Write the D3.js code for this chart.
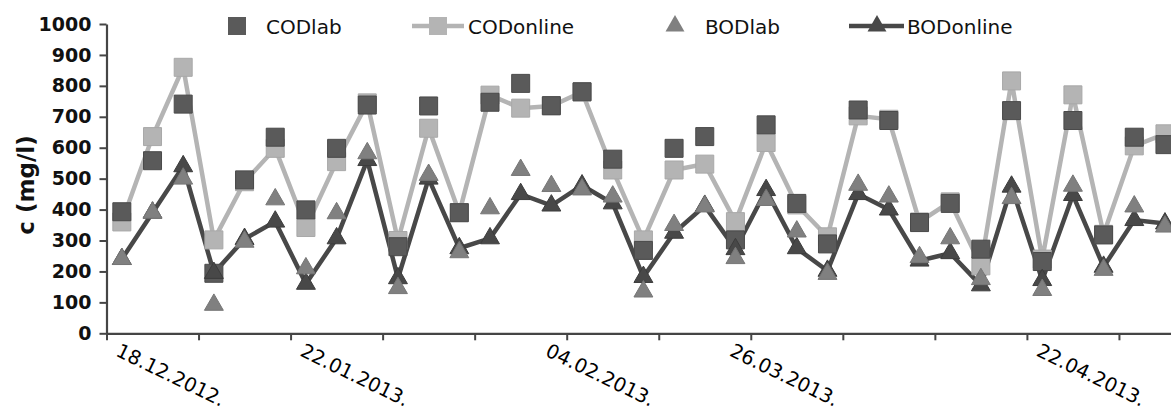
<!DOCTYPE html>
<html>
<head>
<meta charset="utf-8">
<script src="https://cdn.jsdelivr.net/npm/d3@7"></script>
<style>
  body { margin: 0; background: #fff; }
  #chart svg { display: block; }
</style>
</head>
<body>
<div id="chart"></div>
<script>
// values (mg/l), one per sampling point
var codLab    = [393, 558, 741, 194, 496, 634, 399, 598, 738, 280, 735, 390, 747, 808, 736, 781, 563, 268,
                 598, 636, 302, 674, 420, 289, 722, 688, 358, 420, 272, 720, 232, 688, 318, 634, 610];
var codOnline = [360, 636, 860, 302, 490, 598, 342, 555, 745, 300, 663, 390, 770, 728, 735, 780, 528, 302,
                 528, 547, 361, 617, 415, 312, 703, 692, 360, 425, 218, 816, 240, 771, 320, 606, 645];
var bodLab    = [240, 390, 500, 92, 296, 433, 210, 388, 582, 146, 512, 262, 404, 528, 476, 465, 442, 135,
                 350, 410, 243, 431, 329, 192, 480, 442, 246, 307, 175, 437, 140, 477, 205, 410, 345];
var bodOnline = [240, 390, 540, 195, 305, 361, 160, 307, 560, 178, 500, 275, 307, 450, 413, 478, 420, 182,
                 325, 412, 272, 463, 275, 202, 450, 400, 235, 259, 155, 474, 172, 447, 215, 366, 355];

var yTicks = [0, 100, 200, 300, 400, 500, 600, 700, 800, 900, 1000];
var xLabels = ['18.12.2012.', '22.01.2013.', '04.02.2013.', '26.03.2013.', '22.04.2013.'];
var xLabelIdx = [0, 6, 14, 20, 30];
var seriesNames = ['CODlab', 'CODonline', 'BODlab', 'BODonline'];

LineChartVis = function(_parentElement) {
  this.parentElement = _parentElement;
  this.initVis();
};

LineChartVis.prototype.initVis = function() {
  var vis = this;

  vis.margin = { 'top': 24, 'left': 106.5 };
  vis.n = codLab.length;
  vis.step = 30.68;
  vis.width = vis.n * vis.step;
  vis.height = 309.3;

  vis.svg = d3.select('#' + vis.parentElement).append('svg')
    .attr('width', 1171)
    .attr('height', 412)
    .append('g')
    .attr('transform', 'translate(' + vis.margin.left + ',' + vis.margin.top + ')');

  vis.x = d3.scaleBand().domain(d3.range(vis.n)).range([0, vis.width]);
  vis.xTick = d3.scaleLinear().domain([0, vis.n]).range([0, vis.width]);
  vis.y = d3.scaleLinear().domain([0, 1000]).range([vis.height, 0]);

  vis.updateVis();
};

LineChartVis.prototype.cx = function(i) {
  return this.x(i) + this.x.bandwidth() / 2;
};

LineChartVis.prototype.updateVis = function() {
  var vis = this;
  var axisColor = '#454545';

  // y axis
  var yAxis = vis.svg.append('g')
    .call(d3.axisLeft(vis.y).tickValues(yTicks).tickSize(7).tickSizeOuter(0).tickPadding(8)
      .tickFormat(d3.format('d')));
  yAxis.selectAll('text')
    .style('font-family', 'DejaVu Sans')
    .style('font-weight', 'bold')
    .style('font-size', '19px')
    .attr('fill', '#111');

  // x axis, a tick every third sample
  var xAxis = vis.svg.append('g')
    .attr('transform', 'translate(0,' + vis.height + ')')
    .call(d3.axisBottom(vis.xTick).tickValues(d3.range(0, vis.n, 3)).tickSize(7).tickSizeOuter(0).tickFormat(''));

  [yAxis, xAxis].forEach(function(a) {
    a.select('.domain').attr('stroke', axisColor).attr('stroke-width', 2.2);
    a.selectAll('.tick line').attr('stroke', axisColor).attr('stroke-width', 2);
  });

  vis.svg.selectAll('.xlab')
    .data(xLabels)
    .enter()
    .append('text')
    .attr('class', 'xlab')
    .attr('transform', function(d, i) {
      return 'translate(' + (vis.cx(xLabelIdx[i]) - 7) + ',' + (vis.height + 22) + ') rotate(26)';
    })
    .style('font-family', 'DejaVu Sans')
    .style('font-size', '19.5px')
    .attr('fill', '#000')
    .text(function(d) { return d; });

  // axis title
  vis.svg.append('text')
    .attr('transform', 'translate(' + (34 - vis.margin.left) + ',' + (185 - vis.margin.top) + ') rotate(-90)')
    .attr('text-anchor', 'middle')
    .style('font-family', 'DejaVu Sans')
    .style('font-weight', 'bold')
    .style('font-size', '23px')
    .attr('fill', '#111')
    .text('c (mg/l)');

  var line = d3.line()
    .x(function(d, i) { return vis.cx(i); })
    .y(function(d) { return vis.y(d); });

  var codOnColor = '#b4b4b4', codLabColor = '#5a5a5a', bodLabColor = '#808080', bodOnColor = '#484848';

  vis.svg.append('path')
    .datum(codOnline)
    .attr('d', line)
    .attr('fill', 'none')
    .attr('stroke', codOnColor)
    .attr('stroke-width', 4.5);

  vis.svg.append('path')
    .datum(bodOnline)
    .attr('d', line)
    .attr('fill', 'none')
    .attr('stroke', bodOnColor)
    .attr('stroke-width', 4.5);

  var square = d3.symbol().type(d3.symbolSquare).size(18 * 18);
  var tri = d3.symbol().type(d3.symbolTriangle).size(155);

  function markers(data, cls, sym, fill, stroke) {
    vis.svg.selectAll('.' + cls)
      .data(data)
      .enter()
      .append('path')
      .attr('class', cls)
      .attr('d', sym)
      .attr('transform', function(d, i) { return 'translate(' + vis.cx(i) + ',' + vis.y(d) + ')'; })
      .attr('fill', fill)
      .attr('stroke', stroke)
      .attr('stroke-width', 1);
  }

  markers(codOnline, 'm-codon', square, codOnColor, '#a8a8a8');
  markers(codLab, 'm-codlab', square, codLabColor, '#4a4a4a');
  markers(bodOnline, 'm-bodon', tri, bodOnColor, '#3c3c3c');
  markers(bodLab, 'm-bodlab', tri, bodLabColor, '#767676');

  // legend
  var legendY = 26 - vis.margin.top;
  var leg = vis.svg.append('g').attr('transform', 'translate(' + (-vis.margin.left) + ',' + legendY + ')');
  var items = [
    { name: seriesNames[0], mx: 237, tx: 266, sym: square, fill: codLabColor, line: null },
    { name: seriesNames[1], mx: 438, tx: 468, sym: square, fill: codOnColor, line: [412, 464] },
    { name: seriesNames[2], mx: 675, tx: 705, sym: tri, fill: bodLabColor, line: null },
    { name: seriesNames[3], mx: 877, tx: 907, sym: tri, fill: bodOnColor, line: [849, 904] }
  ];
  items.forEach(function(d) {
    if (d.line) {
      leg.append('line')
        .attr('x1', d.line[0]).attr('x2', d.line[1])
        .attr('y1', 0).attr('y2', 0)
        .attr('stroke', d.fill)
        .attr('stroke-width', 4.5);
    }
    leg.append('path')
      .attr('d', d.sym)
      .attr('transform', 'translate(' + d.mx + ',0)')
      .attr('fill', d.fill);
    leg.append('text')
      .attr('x', d.tx)
      .attr('y', 7.5)
      .style('font-family', 'DejaVu Sans')
      .style('font-size', '20px')
      .attr('fill', '#111')
      .text(d.name);
  });
};

new LineChartVis('chart');
</script>
</body>
</html>
